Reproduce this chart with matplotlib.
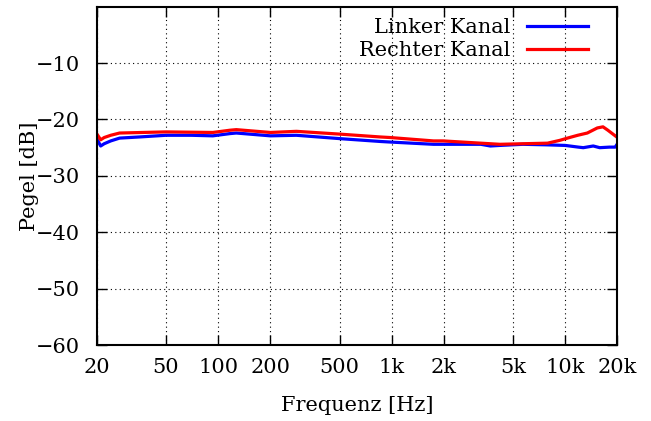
import matplotlib
matplotlib.use('Agg')
import matplotlib.pyplot as plt
from matplotlib.ticker import FixedLocator, NullLocator

plt.rcParams['font.family'] = ['DejaVu Serif']

# values (frequency in Hz, level in dB)
freq_left = [20, 21, 22, 24, 27, 35, 50, 70, 93, 117, 127, 200, 282, 505, 860, 980,
             1740, 1980, 3260, 3700, 4200, 5700, 7900, 10000, 11900, 12700, 14500,
             15800, 18000, 19400, 20000]
level_left = [-23.5, -24.7, -24.3, -23.8, -23.3, -23.1, -22.8, -22.8, -22.9, -22.5, -22.4,
              -22.9, -22.8, -23.4, -23.9, -24.0, -24.4, -24.4, -24.4, -24.7, -24.6,
              -24.4, -24.5, -24.6, -24.9, -25.0, -24.7, -25.0, -24.9, -24.9, -24.3]

freq_right = [20, 21, 22, 24, 27, 50, 93, 117, 127, 200, 282, 505, 860, 980, 1740,
              1980, 3260, 3700, 4200, 5700, 7900, 9300, 10300, 11800, 13400, 15300,
              16500, 17600, 20000]
level_right = [-22.6, -23.6, -23.2, -22.8, -22.4, -22.2, -22.3, -21.9, -21.8, -22.3, -22.1,
               -22.6, -23.1, -23.2, -23.8, -23.8, -24.2, -24.3, -24.4, -24.3, -24.2,
               -23.7, -23.3, -22.8, -22.4, -21.5, -21.3, -21.9, -23.2]

xticks = [20, 50, 100, 200, 500, 1000, 2000, 5000, 10000, 20000]
xticklabels = ['20', '50', '100', '200', '500', '1k', '2k', '5k', '10k', '20k']
yticks = [-60, -50, -40, -30, -20, -10]

fig = plt.figure(figsize=(6.51, 4.21), dpi=100)
ax = fig.add_axes([0.149, 0.1805, 0.7995, 0.8035])

ax.plot(freq_left, level_left, color='#0000ff', lw=2.3, label='Linker Kanal')
ax.plot(freq_right, level_right, color='#ff0000', lw=2.3, label='Rechter Kanal')

ax.set_xscale('log')
ax.set_xlim(20, 20000)
ax.set_ylim(-60, 0)
ax.xaxis.set_major_locator(FixedLocator(xticks))
ax.xaxis.set_minor_locator(NullLocator())
ax.set_xticklabels(xticklabels)
ax.set_yticks(yticks)

ax.grid(True, color='black', linestyle=(0, (1, 3)), lw=0.8)
ax.tick_params(direction='in', length=7, width=1.0, top=True, right=True,
               labelsize=15)
ax.tick_params(axis='x', pad=9)
ax.tick_params(axis='y', pad=12)
for sp in ax.spines.values():
    sp.set_linewidth(1.5)

ax.set_xlabel('Frequenz [Hz]', fontsize=15, labelpad=14)
ax.set_ylabel('Pegel [dB]', fontsize=15, labelpad=-2)

leg = ax.legend(loc='upper right', frameon=False, markerfirst=False, fontsize=15,
                handlelength=2.9, borderaxespad=0.15, labelspacing=0.2,
                bbox_to_anchor=(0.965, 1.0))
for t in leg.get_texts():
    t.set_ha('right')

fig.savefig('out.png', dpi=100, facecolor='white')
